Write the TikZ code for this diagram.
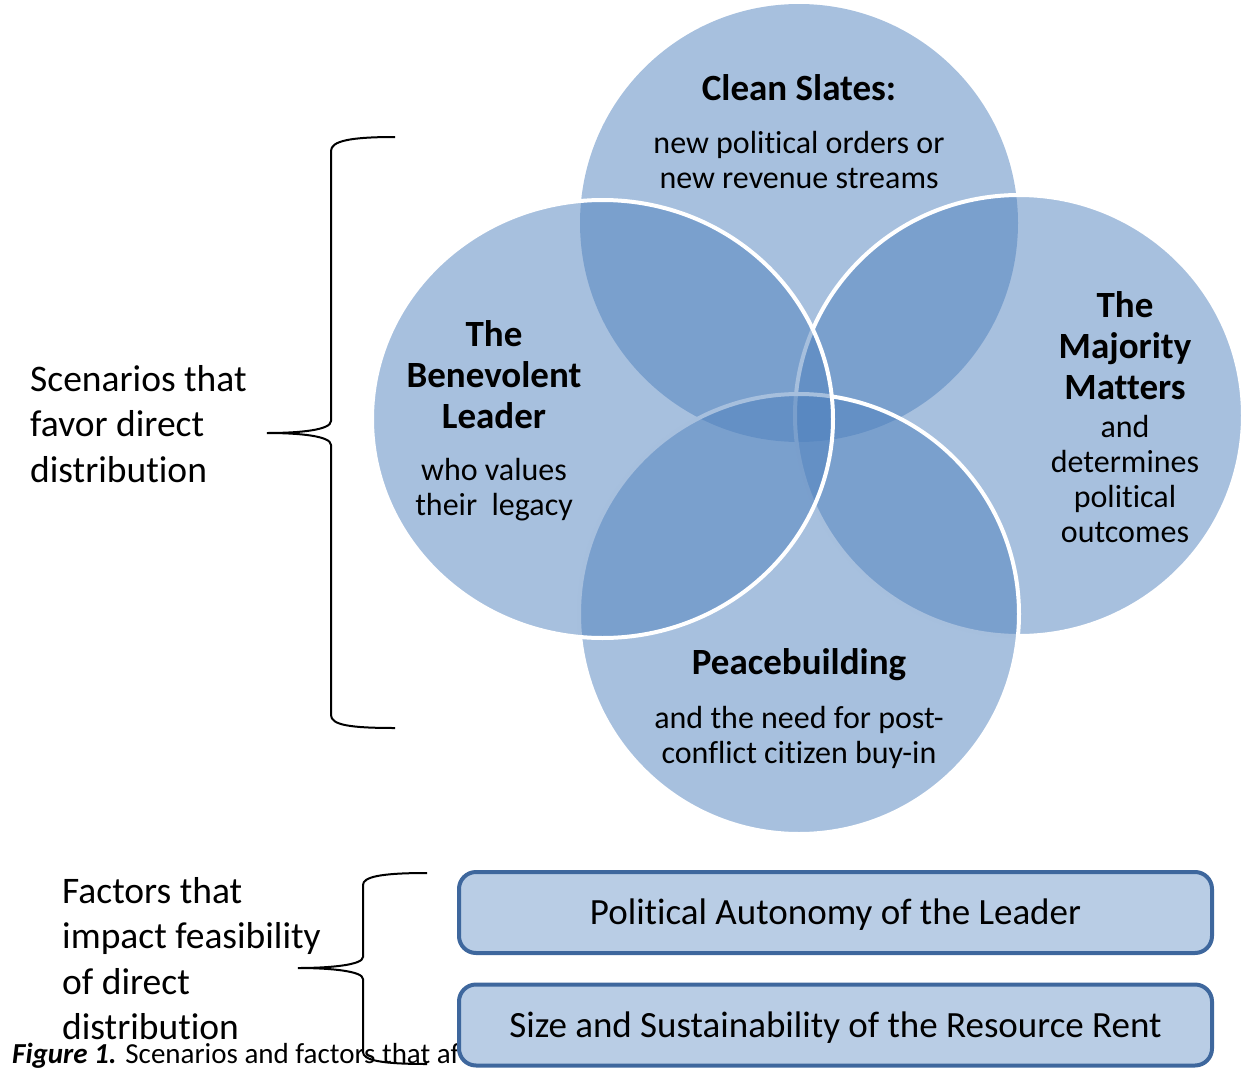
\documentclass[tikz,border=0pt]{standalone}
\usepackage{fontspec}
\setmainfont{Carlito}[RawFeature={-liga}]
\usetikzlibrary{shapes.geometric}
\definecolor{venn}{HTML}{4F81BD}
\definecolor{boxfill}{HTML}{B9CDE5}
\definecolor{boxline}{HTML}{3E679D}
\tikzset{
  vennfill/.style={fill=venn, fill opacity=0.5},
  vennedge/.style={draw=white, line width=4pt},
  head/.style={align=center, font=\fontsize{37}{41}\selectfont\bfseries, inner sep=0pt},
  body/.style={align=center, font=\fontsize{32}{35}\selectfont, inner sep=0pt},
  side/.style={align=left, font=\fontsize{37.5}{45.5}\selectfont, inner sep=0pt, anchor=west},
  factbox/.style={draw=boxline, fill=boxfill, line width=4pt, rounded corners=17pt,
    minimum width=753pt, minimum height=81pt, inner sep=0pt,
    text height=31pt, text depth=7pt,
    font=\fontsize{37}{42}\selectfont},
  bracestyle/.style={draw=black, line width=2pt},
}
\begin{document}
\begin{tikzpicture}[x=1pt,y=-1pt]
\useasboundingbox (0,0) rectangle (1243,1068);
% Venn circles (top, right, bottom, left)
\fill[vennfill] (799,223) ellipse [x radius=219, y radius=219];
\fill[vennfill] (1019,415.5) ellipse [x radius=224, y radius=220.5];
\draw[vennedge] (1019,415.5) ellipse [x radius=224, y radius=220.5];
\fill[vennfill] (799,614) ellipse [x radius=220, y radius=220];
\draw[vennedge] (799,614) ellipse [x radius=220, y radius=220];
\fill[vennfill] (602.5,419) ellipse [x radius=230.5, y radius=219];
\draw[vennedge] (602.5,419) ellipse [x radius=230.5, y radius=219];
% circle texts
\node[head] (cleanh) at (799,88) {Clean Slates:};
\node[body] (cleanb) at (799,160) {new political orders or\\new revenue streams};
\node[head] (benh) at (494,375) {The\\Benevolent\\Leader};
\node[body] (benb) at (494,490) {who values\\their\ \ legacy};
\node[head] (majh) at (1125,346) {The\\Majority\\Matters};
\node[body] (majb) at (1125,479) {and\\determines\\political\\outcomes};
\node[head] (peah) at (799,665) {Peacebuilding};
\node[body] (peab) at (799,737) {and the need for post-\\conflict citizen buy-in};
% left texts
\node[side] (scen) at (30,424) {Scenarios that\\favor direct\\distribution};
% caption
\node[anchor=base west, inner sep=0pt, font=\fontsize{29}{34}\selectfont] (cap) at (12,1063)
  {\textbf{\textit{Figure 1.}} Scenarios and factors that af};
\node[side] (fact) at (62,958.5) {Factors that\\impact feasibility\\of direct\\distribution};
% braces
\coordinate (b1top) at (395,137);
\coordinate (b1tip) at (267,433);
\coordinate (b1bot) at (395,728);
\draw[bracestyle] (b1top) .. controls (350,137) and (331,141) .. (331,151) -- (331,421)
  .. controls (331,430) and (300,433) .. (b1tip)
  .. controls (300,433) and (331,436) .. (331,445) -- (331,715)
  .. controls (331,725) and (350,728) .. (b1bot);
\coordinate (b2top) at (427,873);
\coordinate (b2tip) at (298,968);
\coordinate (b2bot) at (427,1064);
\draw[bracestyle] (b2top) .. controls (380,873) and (363,877) .. (363,885) -- (363,957)
  .. controls (363,965) and (330,968) .. (b2tip)
  .. controls (330,968) and (363,971) .. (363,979) -- (363,1052)
  .. controls (363,1060) and (380,1064) .. (b2bot);
% factor boxes
\node[factbox] (auto) at (835.5,912.5) {Political Autonomy of the Leader};
\node[factbox] (size) at (835.5,1025) {Size and Sustainability of the Resource Rent};
\end{tikzpicture}
\end{document}
